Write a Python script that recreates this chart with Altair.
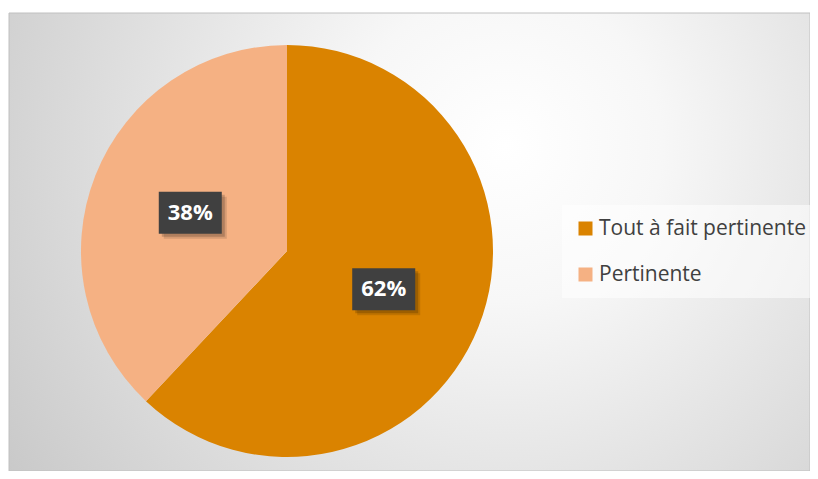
import altair as alt
import pandas as pd
import numpy as np

# ---- data ----
categories = ["Tout à fait pertinente", "Pertinente"]
values = [62, 38]
labels = ["62%", "38%"]
colors = ["#DA8300", "#F5B183"]

# ---- layout ----
W, H = 801, 458
CX, CY, R = 278, 238, 206
LR = 0.505 * R
BW, BH = 63, 42

df = pd.DataFrame({"cat": categories, "val": values, "label": labels,
                   "order": list(range(len(values)))})
total = float(sum(values))
mid = np.cumsum(values) - np.array(values) / 2.0
ang = mid / total * 2 * np.pi
df["lx"] = CX + LR * np.sin(ang)
df["ly"] = CY - LR * np.cos(ang)
df["bx"] = df["lx"] - BW / 2
df["bx2"] = df["lx"] + BW / 2
df["by"] = df["ly"] - BH / 2
df["by2"] = df["ly"] + BH / 2
for k, off in (("s1", 3), ("s2", 5)):
    df[k + "x"] = df["bx"] + off
    df[k + "x2"] = df["bx2"] + off
    df[k + "y"] = df["by"] + off
    df[k + "y2"] = df["by2"] + off

bg = alt.Chart(pd.DataFrame({"a": [0]})).mark_rect(
    fill=alt.RadialGradient(
        gradient="radial", x1=0.62, y1=0.38, r1=0, x2=0.62, y2=0.38, r2=0.78,
        stops=[alt.GradientStop(offset=0, color="#ffffff"),
               alt.GradientStop(offset=0.25, color="#f7f7f7"),
               alt.GradientStop(offset=1, color="#c6c6c6")]),
    stroke="#c0c0c0", strokeWidth=1,
).encode(x=alt.value(0), x2=alt.value("width"), y=alt.value(0), y2=alt.value("height"))

pie = alt.Chart(df).mark_arc(radius=R).encode(
    theta=alt.Theta("val:Q", stack=True),
    color=alt.Color(
        "cat:N",
        scale=alt.Scale(domain=categories, range=colors),
        legend=alt.Legend(
            title=None, orient="none", legendX=553, legendY=192,
            fillColor="rgba(255,255,255,0.55)", padding=13,
            symbolType="square", symbolSize=196, symbolStrokeWidth=0,
            labelFont="Open Sans", labelFontSize=21, labelColor="#404040",
            labelOffset=3, rowPadding=24, labelLimit=400,
        ),
    ),
    order=alt.Order("order:Q"),
    x=alt.value(CX),
    y=alt.value(CY),
)

def box(prefix, color, opacity):
    return alt.Chart(df).mark_rect(color=color, opacity=opacity).encode(
        x=alt.X(prefix + "x:Q", scale=None, axis=None),
        x2=prefix + "x2:Q",
        y=alt.Y(prefix + "y:Q", scale=None, axis=None),
        y2=prefix + "y2:Q",
    )

shadow2 = box("s2", "#000000", 0.12)
shadow1 = box("s1", "#000000", 0.18)
boxes = box("b", "#404040", 1)

text = alt.Chart(df).mark_text(
    font="Open Sans", fontSize=22, fontWeight="bold", color="#ffffff",
    align="center", baseline="middle",
).encode(
    x=alt.X("lx:Q", scale=None, axis=None),
    y=alt.Y("ly:Q", scale=None, axis=None),
    text="label:N",
)

chart = alt.layer(bg, pie, shadow2, shadow1, boxes, text).properties(
    width=W, height=H,
    padding={"left": 1, "top": 5, "right": 0, "bottom": 0},
    autosize=alt.AutoSizeParams(type="none"),
).configure_view(stroke=None)

chart.save("out.html", embed_options={"renderer": "svg", "actions": False})
